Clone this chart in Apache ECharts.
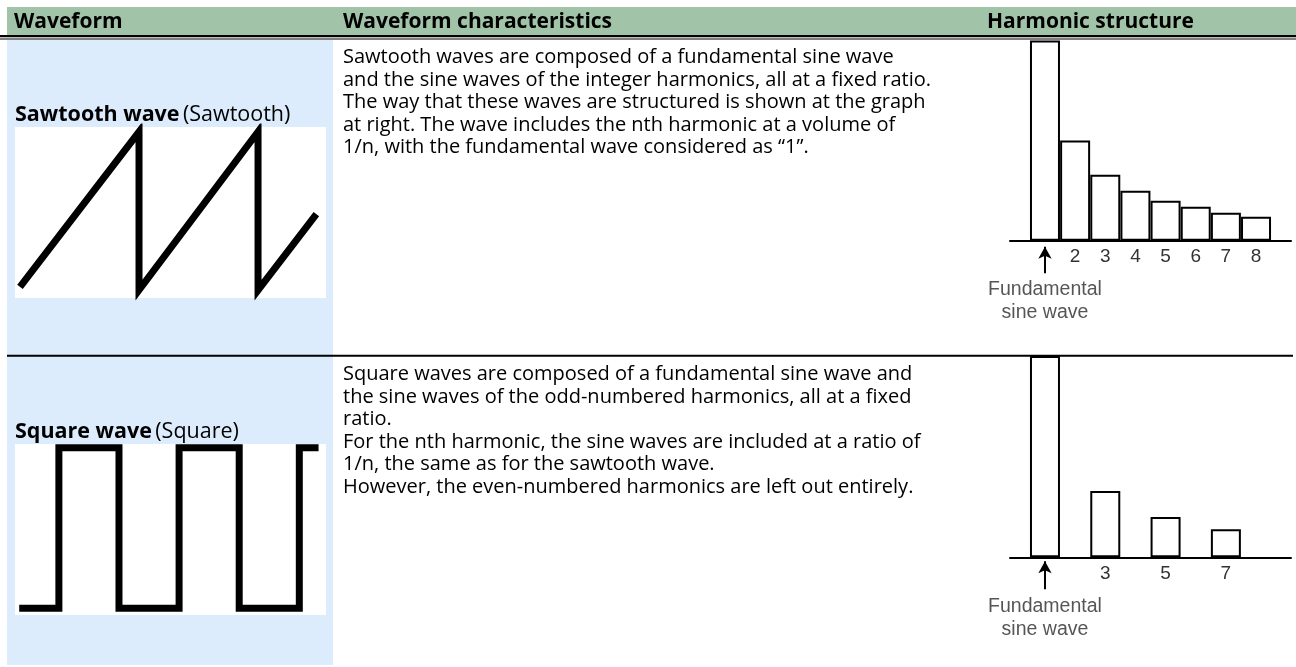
<!DOCTYPE html>
<html>
<head>
<meta charset="utf-8">
<script src="https://cdn.jsdelivr.net/npm/echarts@6/dist/echarts.min.js"></script>
<style>
  html, body { margin: 0; padding: 0; background: #fff; }
  #chart { width: 1296px; height: 667px; }
</style>
</head>
<body>
<div id="chart"></div>
<script>
  // table texts
  const headerLabels = ['Waveform', 'Waveform characteristics', 'Harmonic structure']
  const waveNames = ['Sawtooth wave', 'Square wave']
  const waveTags = ['(Sawtooth)', '(Square)']
  const sawDescription = [
    'Sawtooth waves are composed of a fundamental sine wave',
    'and the sine waves of the integer harmonics, all at a fixed ratio.',
    'The way that these waves are structured is shown at the graph',
    'at right. The wave includes the nth harmonic at a volume of',
    '1/n, with the fundamental wave considered as \u201c1\u201d.',
  ]
  const squareDescription = [
    'Square waves are composed of a fundamental sine wave and',
    'the sine waves of the odd-numbered harmonics, all at a fixed',
    'ratio.',
    'For the nth harmonic, the sine waves are included at a ratio of',
    '1/n, the same as for the sawtooth wave.',
    'However, the even-numbered harmonics are left out entirely.',
  ]
  const fundamentalNote = 'Fundamental\nsine wave'

  // waveform shapes (x in periods / half periods, y 0 = low, 1 = high)
  const sawWaveX = [0, 1, 1, 2, 2, 2.49]
  const sawWaveY = [0.02, 1, 0, 1, 0, 0.48]
  const squareWaveX = [0.34, 1, 1, 2, 2, 3, 3, 4, 4, 5, 5, 5.32]
  const squareWaveY = [0, 0, 1, 1, 0, 0, 1, 1, 0, 0, 1, 1]

  // harmonic structure
  const sawHarmonics = [1, 2, 3, 4, 5, 6, 7, 8]
  const sawLevels = [1, 0.5, 0.33, 0.25, 0.2, 0.17, 0.14, 0.12]
  const squareHarmonics = [1, 3, 5, 7]
  const squareLevels = [1, 0.33, 0.2, 0.14]

  const zip = (xs, ys) => xs.map((x, i) => [x, ys[i]])

  const BODY_FONT = 'Open Sans'
  const LABEL_FONT = 'Liberation Sans'

  var chart = echarts.init(document.getElementById('chart'))

  //表格背景和文字
  var graphic = [
    { type: 'rect', shape: { x: 7, y: 7, width: 1289, height: 28 }, style: { fill: '#a1c4a8' } },
    { type: 'rect', shape: { x: 7, y: 40, width: 326, height: 625 }, style: { fill: '#dcecfc' } },
    { type: 'rect', shape: { x: 15, y: 127, width: 311, height: 171 }, style: { fill: '#fff' } },
    { type: 'rect', shape: { x: 15, y: 444, width: 311, height: 171 }, style: { fill: '#fff' } },
    { type: 'line', shape: { x1: 0, y1: 36.2, x2: 1296, y2: 36.2 }, style: { stroke: '#000', lineWidth: 2.2 } },
    { type: 'line', shape: { x1: 0, y1: 39, x2: 1296, y2: 39 }, style: { stroke: '#000', lineWidth: 1.2 } },
    { type: 'line', shape: { x1: 7, y1: 355.7, x2: 1293, y2: 355.7 }, style: { stroke: '#000', lineWidth: 2 } },
  ]
  var headerX = [14, 343, 987]
  headerLabels.forEach(function (t, i) {
    graphic.push({
      type: 'text', x: headerX[i], y: 22,
      style: { text: t, fontFamily: BODY_FONT, fontWeight: 'bold', fontSize: 21, fill: '#000', verticalAlign: 'middle' },
    })
  })
  var nameY = [114.9, 431.9]
  waveNames.forEach(function (n, i) {
    graphic.push({
      type: 'text', x: 15, y: nameY[i],
      style: {
        text: '{b|' + n + '} {r|' + waveTags[i] + '}',
        verticalAlign: 'middle',
        rich: {
          b: { fontFamily: BODY_FONT, fontWeight: 'bold', fontSize: 21.5, fill: '#000' },
          r: { fontFamily: BODY_FONT, fontSize: 21.5, fill: '#000' },
        },
      },
    })
  })
  ;[[sawDescription, 46], [squareDescription, 363]].forEach(function (p) {
    graphic.push({
      type: 'text', x: 343, y: p[1],
      style: { text: p[0].join('\n'), fontFamily: BODY_FONT, fontSize: 20, lineHeight: 22.6, fill: '#000', verticalAlign: 'top' },
    })
  })

  function waveSeries(data, idx) {
    return {
      type: 'line', xAxisIndex: idx, yAxisIndex: idx, data: data,
      symbol: 'none', silent: true,
      lineStyle: { color: '#000', width: 7, join: 'miter', cap: 'butt' },
    }
  }

  function harmonicSeries(nums, levels, idx, arrow) {
    return [
      {
        type: 'bar', xAxisIndex: idx, yAxisIndex: idx, barWidth: 30,
        data: zip(nums, levels),
        itemStyle: { color: '#fff', borderColor: '#000', borderWidth: 2 },
        label: {
          show: true, position: 'bottom', distance: 7,
          fontFamily: LABEL_FONT, fontSize: 19, color: '#333',
          formatter: function (p) { return p.value[0] === 1 ? '' : String(p.value[0]) },
        },
        markLine: {
          silent: true, animation: false,
          symbol: ['none', 'arrow'], symbolSize: [10, 12],
          lineStyle: { color: '#000', width: 2, type: 'solid' },
          label: { show: false },
          data: [[{ coord: [1, arrow[0]] }, { coord: [1, arrow[1]] }]],
        },
      },
      {
        type: 'scatter', xAxisIndex: idx, yAxisIndex: idx, symbolSize: 0, silent: true,
        data: [[1, -0.303]],
        label: {
          show: true, position: 'inside', formatter: fundamentalNote,
          fontFamily: LABEL_FONT, fontSize: 19.5, lineHeight: 23, color: '#2a2a2a', align: 'center',
        },
      },
    ]
  }

  var hiddenY = { show: false }
  let option = {
    animation: false,
    graphic: { elements: graphic },
    grid: [
      { left: 15, top: 127, width: 311, height: 171 },
      { left: 15, top: 444, width: 311, height: 171 },
      { left: 1010, top: 40.5, width: 281, height: 290.3 },
      { left: 1010, top: 356, width: 281, height: 291.9 },
    ],
    xAxis: [
      { type: 'value', gridIndex: 0, min: -0.042, max: 2.571, show: false },
      { type: 'value', gridIndex: 1, min: 0.27, max: 5.444, show: false },
      {
        type: 'value', gridIndex: 2, min: -0.16, max: 9.16,
        axisLine: { onZero: true, lineStyle: { color: '#000', width: 2 } },
        axisTick: { show: false }, axisLabel: { show: false }, splitLine: { show: false },
      },
      {
        type: 'value', gridIndex: 3, min: -0.16, max: 9.16,
        axisLine: { onZero: true, lineStyle: { color: '#000', width: 2 } },
        axisTick: { show: false }, axisLabel: { show: false }, splitLine: { show: false },
      },
    ],
    yAxis: [
      Object.assign({ type: 'value', gridIndex: 0, min: -0.05, max: 1.03 }, hiddenY),
      Object.assign({ type: 'value', gridIndex: 1, min: -0.042, max: 1.023 }, hiddenY),
      Object.assign({ type: 'value', gridIndex: 2, min: -0.45, max: 1 }, hiddenY),
      Object.assign({ type: 'value', gridIndex: 3, min: -0.45, max: 1 }, hiddenY),
    ],
    series: [
      waveSeries(zip(sawWaveX, sawWaveY), 0),
      waveSeries(zip(squareWaveX, squareWaveY), 1),
    ]
      .concat(harmonicSeries(sawHarmonics, sawLevels, 2, [-0.163, -0.03]))
      .concat(harmonicSeries(squareHarmonics, squareLevels, 3, [-0.159, -0.02])),
  }
  chart.setOption(option)
</script>
</body>
</html>
